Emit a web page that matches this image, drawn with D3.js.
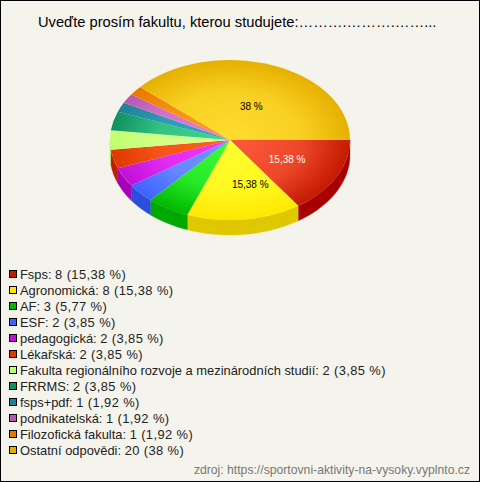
<!DOCTYPE html>
<html><head><meta charset="utf-8">
<style>html,body{margin:0;padding:0;background:#f5f4ec}svg{display:block}text{font-family:"Liberation Sans",Arial,sans-serif}</style>
<script src="https://cdn.jsdelivr.net/npm/d3@7"></script></head><body>
<script>
const titleText = "Uveďte prosím fakultu, kterou studujete:……….……….……...";
const sourceText = "zdroj: https://sportovni-aktivity-na-vysoky.vyplnto.cz";
const categories = ["Fsps","Agronomická","AF","ESF","pedagogická","Lékařská","Fakulta regionálního rozvoje a mezinárodních studií","FRRMS","fsps+pdf","podnikatelská","Filozofická fakulta","Ostatní odpovědi"];
const counts = [8,8,3,2,2,2,2,2,1,1,1,20];
const percentLabels = ["15,38 %","15,38 %","5,77 %","3,85 %","3,85 %","3,85 %","3,85 %","3,85 %","1,92 %","1,92 %","1,92 %","38 %"];
const edgeColors = ["#c41a00","#ffe800","#00b800","#4060ff","#c010d8","#e03800","#c0ff70","#109060","#208098","#b858b0","#e87800","#e6b000"];
const centerColors = ["#ff5a3c","#ffff30","#38ff38","#7098ff","#f038ff","#ff6020","#d8ff90","#40d890","#30a8c0","#e080d8","#ff9a20","#ffdd30"];
const sideColors = ["#a80000","#e0c800","#00a800","#2a4fdd","#a800b8","#b82000","#a8e060","#087048","#106078","#904090","#c06000","#c09000"];

const W = 480, H = 482, cx = 230, cy = 140, rx = 120, ry = 80, depth = 15;
const svg = d3.select("body").append("svg").attr("width", W).attr("height", H);
svg.append("rect").attr("x",.5).attr("y",.5).attr("width",W-1).attr("height",H-1).attr("fill","#f5f4ec").attr("stroke","#000");

const pie = d3.pie().sort(null).value(d => d).startAngle(Math.PI/2).endAngle(Math.PI*2.5);
const arcs = pie(counts);
const arc = d3.arc().innerRadius(0).outerRadius(rx);
const defs = svg.append("defs");
categories.forEach((c,i) => {
  const g = defs.append("radialGradient").attr("id","g"+i).attr("gradientUnits","userSpaceOnUse")
    .attr("cx",0).attr("cy",0).attr("r",rx);
  g.append("stop").attr("offset",0).attr("stop-color",centerColors[i]);
  g.append("stop").attr("offset",.6).attr("stop-color",d3.interpolateRgb(centerColors[i],edgeColors[i])(.3));
  g.append("stop").attr("offset",1).attr("stop-color",edgeColors[i]);
});
const px = a => cx + rx*Math.sin(a), py = (a,dy=0) => cy - ry*Math.cos(a) + dy;
const lim = Math.PI*1.5;
arcs.forEach((d,i) => {
  const a0 = d.startAngle, a1 = Math.min(d.endAngle, lim);
  if (a0 >= lim) return;
  const p = d3.path(), n = 24;
  p.moveTo(px(a0),py(a0));
  for (let k=1;k<=n;k++){const a=a0+(a1-a0)*k/n;p.lineTo(px(a),py(a));}
  for (let k=n;k>=0;k--){const a=a0+(a1-a0)*k/n;p.lineTo(px(a),py(a,depth));}
  p.closePath();
  svg.append("path").attr("d",p.toString()).attr("fill",sideColors[i]).attr("stroke",sideColors[i]).attr("stroke-width",.3);
});
const pieTop = svg.append("g").attr("transform",`translate(${cx},${cy}) scale(1,${ry/rx})`);
pieTop.selectAll("path").data(arcs).join("path").attr("d",arc).attr("fill",(d,i)=>`url(#g${i})`);

const shownLabels = [0,1,11];
const nudge = {0:[4,1],1:[13,5],11:[0,4]};
shownLabels.forEach(i => {
  const m = (arcs[i].startAngle+arcs[i].endAngle)/2;
  svg.append("text").attr("x",cx+rx*.5*Math.sin(m)+nudge[i][0]).attr("y",cy-ry*.5*Math.cos(m)+nudge[i][1]+3.5)
    .attr("text-anchor","middle").attr("font-size",10).attr("fill",i===0?"#fff":"#000").text(percentLabels[i]);
});

svg.append("text").attr("x",38).attr("y",27).attr("font-size",14.7).attr("fill","#000").text(titleText);

const legendY = d3.scalePoint().domain(categories).range([274,450]);
const lg = svg.append("g").selectAll("g").data(categories).join("g").attr("transform",c=>`translate(0,${legendY(c)})`);
lg.append("rect").attr("x",9.5).attr("y",-3.5).attr("width",7).attr("height",7).attr("fill",(c,i)=>edgeColors[i]).attr("stroke","#000");
const lt = lg.append("text").attr("x",20).attr("y",4.5).attr("font-size",12.9).attr("fill","#222");
lt.append("tspan").text(c=>`${c}: `);
lt.append("tspan").attr("letter-spacing",.4).text((c,i)=>`${counts[i]} (${percentLabels[i]})`);

svg.append("text").attr("x",470).attr("y",474).attr("text-anchor","end").attr("font-size",12.2).attr("fill","#777").text(sourceText);
</script></body></html>
